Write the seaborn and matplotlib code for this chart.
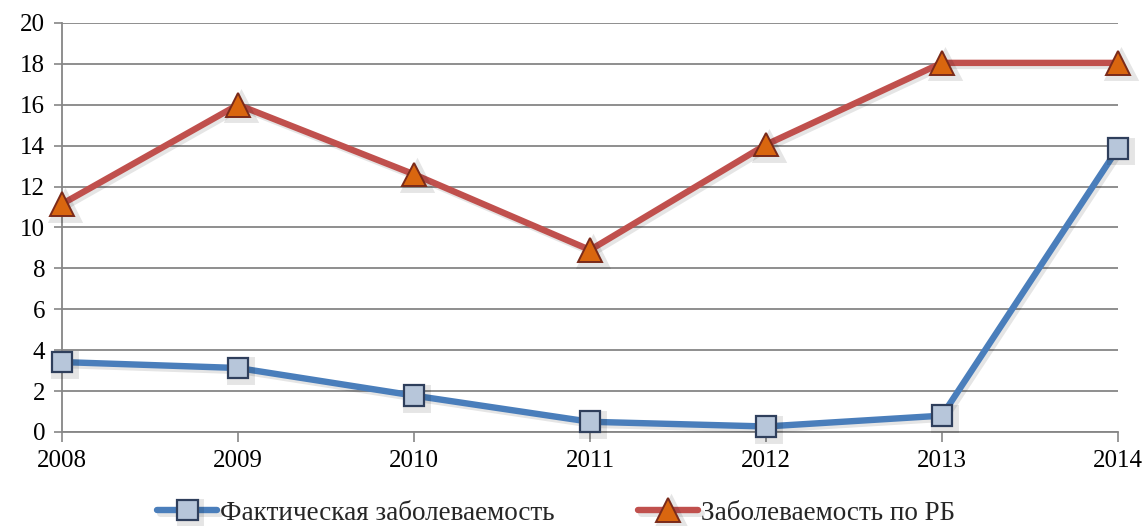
import matplotlib
matplotlib.use("Agg")
import matplotlib.pyplot as plt
import matplotlib.patheffects as pe
import pandas as pd
import seaborn as sns

years = [2008, 2009, 2010, 2011, 2012, 2013, 2014]
actual = [3.42, 3.13, 1.78, 0.50, 0.27, 0.80, 13.88]
republic = [11.15, 16.0, 12.6, 8.9, 14.05, 18.05, 18.05]
series_names = ["Фактическая заболеваемость", "Заболеваемость по РБ"]
y_ticks = list(range(0, 21, 2))

sns.set_theme(style="white")
plt.rcParams["font.family"] = ["Liberation Serif", "DejaVu Serif"]

fig = plt.figure(figsize=(11.48, 5.26), dpi=100)
ax = fig.add_axes([62 / 1148, 1 - 432 / 526, (1118 - 62) / 1148, (432 - 23) / 526])

shadow = [pe.SimpleLineShadow(offset=(2, -2), shadow_color="#000000", alpha=0.10, linewidth=5),
          pe.Normal()]

df_a = pd.DataFrame({"year": years, "value": actual})
df_r = pd.DataFrame({"year": years, "value": republic})

sns.lineplot(data=df_a, x="year", y="value", ax=ax, color="#4a7ebb", linewidth=4.6,
             marker="s", markersize=15, markerfacecolor="#b7c6da", markeredgecolor="#2f3f5c",
             markeredgewidth=1.6, label=series_names[0], zorder=4, path_effects=shadow,
             clip_on=False)
sns.lineplot(data=df_r, x="year", y="value", ax=ax, color="#c0504d", linewidth=4.6,
             marker="^", markersize=17, markerfacecolor="#d9660f", markeredgecolor="#7a2a1a",
             markeredgewidth=1.4, label=series_names[1], zorder=4, path_effects=shadow,
             clip_on=False)

ax.set_xlim(years[0], years[-1])
ax.set_ylim(0, 20)
ax.set_yticks(y_ticks)
ax.set_xticks(years)
ax.set_xticklabels([str(y) for y in years])
ax.set_xlabel("")
ax.set_ylabel("")

ax.grid(axis="y", color="#868686", linewidth=1.3)
ax.set_axisbelow(True)
for s in ["top", "right"]:
    ax.spines[s].set_visible(False)
ax.spines["left"].set_color("#868686")
ax.spines["left"].set_linewidth(1.3)
ax.spines["bottom"].set_color("#868686")
ax.spines["bottom"].set_linewidth(1.3)

ax.tick_params(axis="x", which="both", bottom=True, length=7, width=1.2, color="#868686",
               labelsize=18, pad=6, labelcolor="black")
ax.tick_params(axis="y", which="both", left=True, length=6, width=1.2, color="#868686",
               labelsize=18, pad=6, labelcolor="black")

leg = ax.legend(loc="center", bbox_to_anchor=(556 / 1148, 13 / 526), bbox_transform=fig.transFigure,
                ncol=2, frameon=False, fontsize=19.5, handlelength=2.2, handletextpad=0.1,
                columnspacing=3.1, borderaxespad=0, borderpad=0)

fig.savefig("out.png", dpi=100)
